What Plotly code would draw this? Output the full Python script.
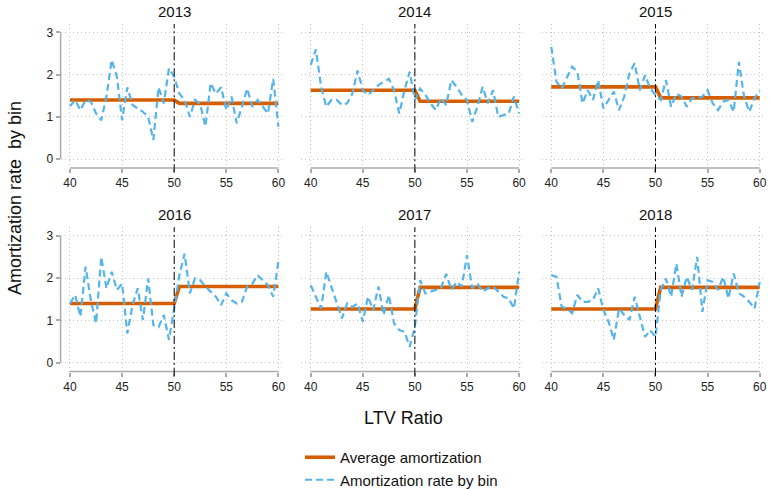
import plotly.graph_objects as go

# LTV ratio bins (half-point bins from 40 to 60)
BINS = [40.0, 40.5, 41.0, 41.5, 42.0, 42.5, 43.0, 43.5, 44.0, 44.5,
        45.0, 45.5, 46.0, 46.5, 47.0, 47.5, 48.0, 48.5, 49.0, 49.5,
        50.0, 50.5, 51.0, 51.5, 52.0, 52.5, 53.0, 53.5, 54.0, 54.5,
        55.0, 55.5, 56.0, 56.5, 57.0, 57.5, 58.0, 58.5, 59.0, 59.5, 60.0]

YEARS = ["2013", "2014", "2015", "2016", "2017", "2018"]

# Amortization rate by bin, one list per year
RATE_2013 = [1.25, 1.40, 1.16, 1.40, 1.36, 1.08, 0.92, 1.48, 2.35, 1.95,
             0.92, 1.70, 1.28, 1.20, 1.12, 1.00, 0.45, 1.70, 1.32, 2.15,
             1.95, 1.55, 1.40, 1.00, 1.40, 1.30, 0.77, 1.80, 1.55, 1.70,
             1.16, 1.48, 0.85, 1.24, 1.67, 1.24, 1.40, 1.24, 1.08, 1.90, 0.77]
RATE_2014 = [2.23, 2.60, 1.71, 1.24, 1.40, 1.40, 1.28, 1.32, 1.55, 2.10,
             1.63, 1.52, 1.63, 1.75, 1.83, 1.90, 1.63, 1.08, 1.63, 2.07,
             1.40, 1.67, 1.52, 1.32, 1.16, 1.44, 1.28, 1.87, 1.71, 1.52,
             1.40, 0.88, 1.24, 1.71, 1.32, 1.63, 1.00, 1.04, 1.08, 1.48, 1.08]
RATE_2015 = [2.66, 1.83, 1.67, 1.95, 2.19, 2.07, 1.32, 1.63, 1.40, 1.87,
             1.20, 1.40, 1.60, 1.16, 1.48, 2.03, 2.27, 1.63, 1.99, 1.67,
             1.52, 1.40, 1.87, 1.24, 1.55, 1.48, 1.24, 1.44, 1.44, 1.48,
             1.63, 1.32, 1.16, 1.36, 1.40, 1.12, 2.30, 1.48, 1.12, 1.44, 1.63]
RATE_2016 = [1.40, 1.60, 1.09, 2.27, 1.48, 0.93, 2.50, 1.76, 2.15, 1.72,
             1.87, 0.69, 1.36, 1.76, 1.01, 1.99, 0.89, 0.84, 1.13, 0.54,
             1.28, 2.07, 2.58, 1.64, 1.99, 1.95, 1.80, 1.68, 1.56, 1.36,
             1.64, 1.48, 1.40, 1.44, 1.80, 1.87, 2.07, 1.95, 1.83, 1.56, 2.39]
RATE_2017 = [1.83, 1.56, 1.28, 2.15, 1.80, 1.40, 1.05, 1.40, 1.32, 1.40,
             0.97, 1.56, 1.24, 1.80, 1.13, 1.60, 0.93, 0.77, 0.73, 0.38,
             0.85, 1.95, 1.64, 1.68, 1.72, 1.76, 2.10, 1.72, 1.91, 1.80,
             2.54, 1.76, 1.87, 1.68, 1.76, 1.80, 1.68, 1.56, 1.52, 1.28, 2.15]
RATE_2018 = [2.07, 2.03, 1.32, 1.28, 1.17, 1.60, 1.44, 1.44, 1.48, 1.76,
             1.24, 0.97, 0.54, 1.28, 1.13, 1.01, 1.56, 1.09, 0.61, 0.77,
             0.61, 1.72, 1.99, 1.56, 2.34, 1.56, 2.03, 1.72, 2.50, 1.20,
             1.95, 1.91, 1.72, 2.03, 1.52, 2.11, 1.64, 1.56, 1.44, 1.28, 1.91]
RATES = [RATE_2013, RATE_2014, RATE_2015, RATE_2016, RATE_2017, RATE_2018]

# Average amortization below / above the 50% LTV threshold
AVG_BELOW = [1.40, 1.63, 1.71, 1.40, 1.27, 1.27]
AVG_ABOVE = [1.32, 1.37, 1.45, 1.80, 1.78, 1.78]

THRESHOLD = 50
X_TICKS = [40, 45, 50, 55, 60]
Y_TICKS = [0, 1, 2, 3]

ORANGE = "#D55E00"
SKY = "#56B4E9"
AXIS_GREY = "#ababab"
GRID_GREY = "#c4c4c4"
FONT = "Liberation Sans, Arial, sans-serif"

W, H = 769, 489
XR = [39.1, 60.45]
YR = [-0.21, 3.2]
COL_PX = [(60.6, 283.1), (301.3, 523.8), (541.9, 764.4)]
ROW_PX = [(24.0, 167.9), (227.3, 371.6)]
TITLE_Y_PX = [11.3, 214.0]


def yfrac(v):
    return (v - YR[0]) / (YR[1] - YR[0])


fig = go.Figure()
layout = {}
annotations = []
shapes = []

for i, year in enumerate(YEARS):
    r, c = divmod(i, 3)
    n = i + 1
    xa = "x" if n == 1 else f"x{n}"
    ya = "y" if n == 1 else f"y{n}"
    xkey = "xaxis" if n == 1 else f"xaxis{n}"
    ykey = "yaxis" if n == 1 else f"yaxis{n}"

    left, right = COL_PX[c]
    top, bottom = ROW_PX[r]

    avg = [AVG_BELOW[i] if b <= THRESHOLD else AVG_ABOVE[i] for b in BINS]

    fig.add_trace(go.Scatter(
        x=BINS, y=avg, mode="lines", xaxis=xa, yaxis=ya,
        line=dict(color=ORANGE, width=3.6),
        name="Average amortization", showlegend=(i == 0),
        legendrank=1,
    ))
    fig.add_trace(go.Scatter(
        x=BINS, y=RATES[i], mode="lines", xaxis=xa, yaxis=ya,
        line=dict(color=SKY, width=2.2, dash="7px,4px"),
        name="Amortization rate by bin", showlegend=(i == 0),
        legendrank=2,
    ))

    layout[xkey] = dict(
        domain=[left / W, right / W], range=XR, anchor=ya,
        tickvals=X_TICKS, ticks="outside", ticklen=4, tickwidth=1.5,
        tickcolor=AXIS_GREY, showline=False, zeroline=False,
        showgrid=True, gridcolor=GRID_GREY, gridwidth=1, griddash="1px,3px",
        tickfont=dict(size=12, color="#222", family=FONT),
    )
    layout[ykey] = dict(
        domain=[1 - bottom / H, 1 - top / H], range=YR, anchor=xa,
        tickvals=Y_TICKS, showline=False, zeroline=False,
        showgrid=True, gridcolor=GRID_GREY, gridwidth=1, griddash="1px,3px",
        ticks="outside" if c == 0 else "", ticklen=4, tickwidth=1.5,
        tickcolor=AXIS_GREY, showticklabels=(c == 0),
        tickfont=dict(size=12, color="#222", family=FONT),
    )

    # x axis line spanning the LTV range
    shapes.append(dict(type="line", xref=xa, yref=f"{ya} domain",
                       x0=X_TICKS[0], x1=X_TICKS[-1], y0=0, y1=0,
                       line=dict(color=AXIS_GREY, width=1.5)))
    # y axis line on the first column only
    if c == 0:
        shapes.append(dict(type="line", xref=f"{xa} domain", yref=ya,
                           x0=0, x1=0, y0=Y_TICKS[0], y1=Y_TICKS[-1],
                           line=dict(color=AXIS_GREY, width=1.5)))
    # threshold marker
    shapes.append(dict(type="line", xref=xa, yref=f"{ya} domain",
                       x0=THRESHOLD, x1=THRESHOLD, y0=-0.03, y1=1,
                       line=dict(color="black", width=1, dash="8px,3px,2px,3px")))

    annotations.append(dict(
        text=year, xref=xa, yref="paper", x=THRESHOLD,
        y=1 - TITLE_Y_PX[r] / H, xanchor="center", yanchor="middle",
        showarrow=False, font=dict(size=15, color="#111", family=FONT),
    ))

annotations.append(dict(
    text="LTV Ratio", xref="paper", yref="paper", x=403.3 / W, y=1 - 417.5 / H,
    xanchor="center", yanchor="middle", showarrow=False,
    font=dict(size=18, color="#111", family=FONT),
))
annotations.append(dict(
    text="Amortization rate\u00a0 by bin", xref="paper", yref="paper",
    x=15 / W, y=1 - 198 / H, xanchor="center", yanchor="middle",
    textangle=-90, showarrow=False,
    font=dict(size=18, color="#111", family=FONT),
))

fig.update_layout(
    width=W, height=H,
    margin=dict(l=0, r=0, t=0, b=0, autoexpand=False),
    paper_bgcolor="white", plot_bgcolor="white",
    font=dict(family=FONT, color="#111"),
    showlegend=True,
    legend=dict(
        x=300 / W, y=1 - 441.0 / H, xanchor="left", yanchor="top",
        orientation="v", bgcolor="rgba(0,0,0,0)", borderwidth=0,
        font=dict(size=15, color="#111", family=FONT),
        traceorder="normal",
    ),
    annotations=annotations,
    shapes=shapes,
    **layout,
)

fig.write_html("out.html")
